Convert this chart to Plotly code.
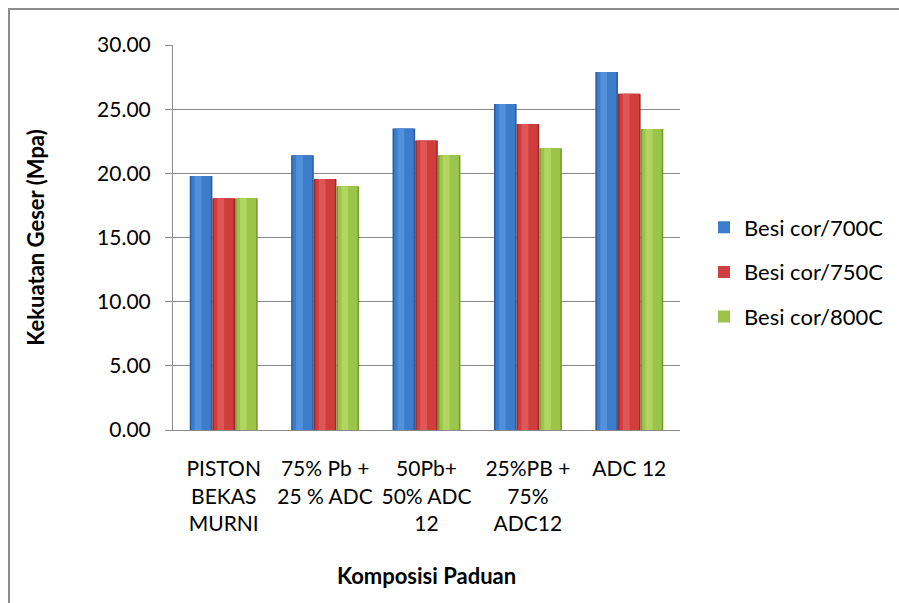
import plotly.graph_objects as go

categories = [
    "PISTON<br>BEKAS<br>MURNI",
    "75% Pb +<br>25 % ADC",
    "50Pb+<br>50% ADC<br>12",
    "25%PB +<br>75%<br>ADC12",
    "ADC 12",
]
series_names = ["Besi cor/700C", "Besi cor/750C", "Besi cor/800C"]
besi_700 = [19.80, 21.40, 23.50, 25.40, 27.90]
besi_750 = [18.05, 19.55, 22.55, 23.85, 26.20]
besi_800 = [18.05, 19.00, 21.40, 21.95, 23.45]
y_ticks = [0, 5, 10, 15, 20, 25, 30]

# shading per series: outer edge, body, highlight strip
edge_colors = ["#2b5e9f", "#9e2a2a", "#779a35"]
body_colors = ["#3b7ccb", "#cf3d3d", "#9cc44b"]
light_colors = ["#5290dc", "#de5757", "#b0d560"]

FONT = "Lato"
GROUP_W = 0.67           # share of each category taken by the bar cluster
BAR_W = GROUP_W / 3

fig = go.Figure()
for i, (name, vals) in enumerate(zip(series_names, [besi_700, besi_750, besi_800])):
    left = -GROUP_W / 2 + i * BAR_W
    layers = [
        (0.0, 1.0, edge_colors[i], False),
        (0.07, 0.86, body_colors[i], True),
        (0.22, 0.30, light_colors[i], False),
    ]
    for start, frac, color, in_legend in layers:
        fig.add_trace(go.Bar(
            x=categories, y=vals, name=name, legendgroup=name,
            showlegend=in_legend,
            offset=left + start * BAR_W, width=frac * BAR_W,
            marker=dict(color=color, line=dict(width=0)),
        ))

W, H = 899, 603
L, R, T, B = 173, 219, 45, 173
pw, ph = W - L - R, H - T - B


def px_x(x):
    return (x - L) / pw


def px_y(y):
    return (H - B - y) / ph


fig.update_layout(
    width=W, height=H,
    margin=dict(l=L, r=R, t=T, b=B, autoexpand=False),
    paper_bgcolor="white", plot_bgcolor="white",
    font=dict(family=FONT, size=21, color="black"),
    barmode="overlay",
    showlegend=True,
    legend=dict(
        x=px_x(704), y=px_y(272), xanchor="left", yanchor="middle",
        font=dict(size=22), tracegroupgap=13, traceorder="grouped",
        bgcolor="rgba(0,0,0,0)",
    ),
    shapes=[dict(
        type="rect", xref="paper", yref="paper",
        x0=px_x(9), x1=px_x(930), y0=px_y(9), y1=px_y(640),
        line=dict(color="#8c8c8c", width=2), layer="below",
    )],
)
fig.update_yaxes(
    range=[0, 30], tickvals=y_ticks, tickformat=".2f",
    showgrid=True, gridcolor="#8a8a8a", gridwidth=1,
    showline=True, linecolor="#8a8a8a", linewidth=1,
    ticks="outside", ticklen=7, tickcolor="#8a8a8a",
    ticklabelstandoff=10, zeroline=False,
    title=dict(text="<b>Kekuatan Geser (Mpa)</b>", font=dict(size=22), standoff=46),
)
fig.update_xaxes(
    showline=True, linecolor="#8a8a8a", linewidth=1,
    ticks="", ticklabelstandoff=20,
    title=dict(text="<b>Komposisi Paduan</b>", font=dict(size=22), standoff=34),
)

fig.write_html("out.html")
